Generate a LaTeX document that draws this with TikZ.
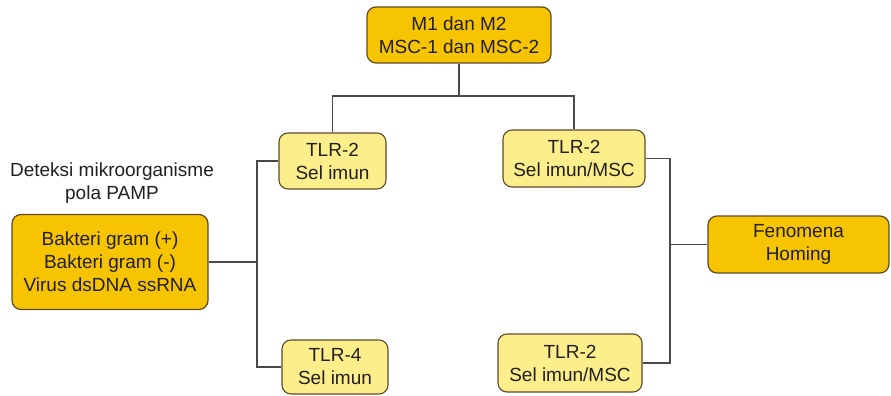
\documentclass[tikz,border=0pt]{standalone}
\usepackage{fontspec}
\setmainfont{Liberation Sans}
\definecolor{gold}{HTML}{F6C400}
\definecolor{paleyellow}{HTML}{FCEE8A}
\definecolor{boxline}{HTML}{5E4B2A}
\definecolor{wire}{HTML}{4A4A4A}
\definecolor{ink}{HTML}{231F20}
\begin{document}
\begin{tikzpicture}[x=1pt,y=-1pt,
  every node/.style={font=\fontsize{19}{23}\selectfont, text=ink, align=center, inner sep=0pt},
  mainbox/.style={draw=boxline, line width=1.2pt, fill=gold, rounded corners=9pt},
  tlrbox/.style={draw=boxline, line width=1.1pt, fill=paleyellow, rounded corners=9pt},
  wireline/.style={draw=wire, line width=1.1pt}]
\useasboundingbox (0,0) rectangle (891,396);

% boxes
\node[mainbox, minimum width=184pt, minimum height=56pt] (top) at (459,35) {M1 dan M2\\MSC-1 dan MSC-2};
\node[tlrbox, minimum width=107pt, minimum height=56pt] (tl) at (332.5,161) {TLR-2\\Sel imun};
\node[tlrbox, minimum width=142pt, minimum height=57pt] (tr) at (574,158.5) {TLR-2\\Sel imun/MSC};
\node[mainbox, minimum width=196pt, minimum height=95pt] (left) at (110,262) {Bakteri gram (+)\\Bakteri gram (-)\\Virus dsDNA ssRNA};
\node (lbl) at (112,183) {Deteksi mikroorganisme\\pola PAMP};
\node[tlrbox, minimum width=106pt, minimum height=54pt] (tb) at (335,367) {TLR-4\\Sel imun};
\node[tlrbox, minimum width=144pt, minimum height=58pt] (br) at (570,363) {TLR-2\\Sel imun/MSC};
\node[mainbox, minimum width=181pt, minimum height=57pt] (fen) at (798.5,244.5) {Fenomena\\Homing};

% junction points of the tree
\coordinate (jtop) at (459,96);
\coordinate (jleft) at (257,262);
\coordinate (jright) at (670,244.5);

% connectors
\draw[wireline] (top.south) -- (jtop);
\draw[wireline] (tl.north) -- (tl.north |- jtop) -- (tr.north |- jtop) -- (tr.north);
\draw[wireline] (left.east) -- (jleft);
\draw[wireline] (tl.west) -- (tl.west -| jleft) -- (tb.west -| jleft) -- (tb.west);
\draw[wireline] (tr.east) -- (tr.east -| jright) -- (br.east -| jright) -- (br.east);
\draw[wireline] (fen.west) -- (jright);
\end{tikzpicture}
\end{document}
